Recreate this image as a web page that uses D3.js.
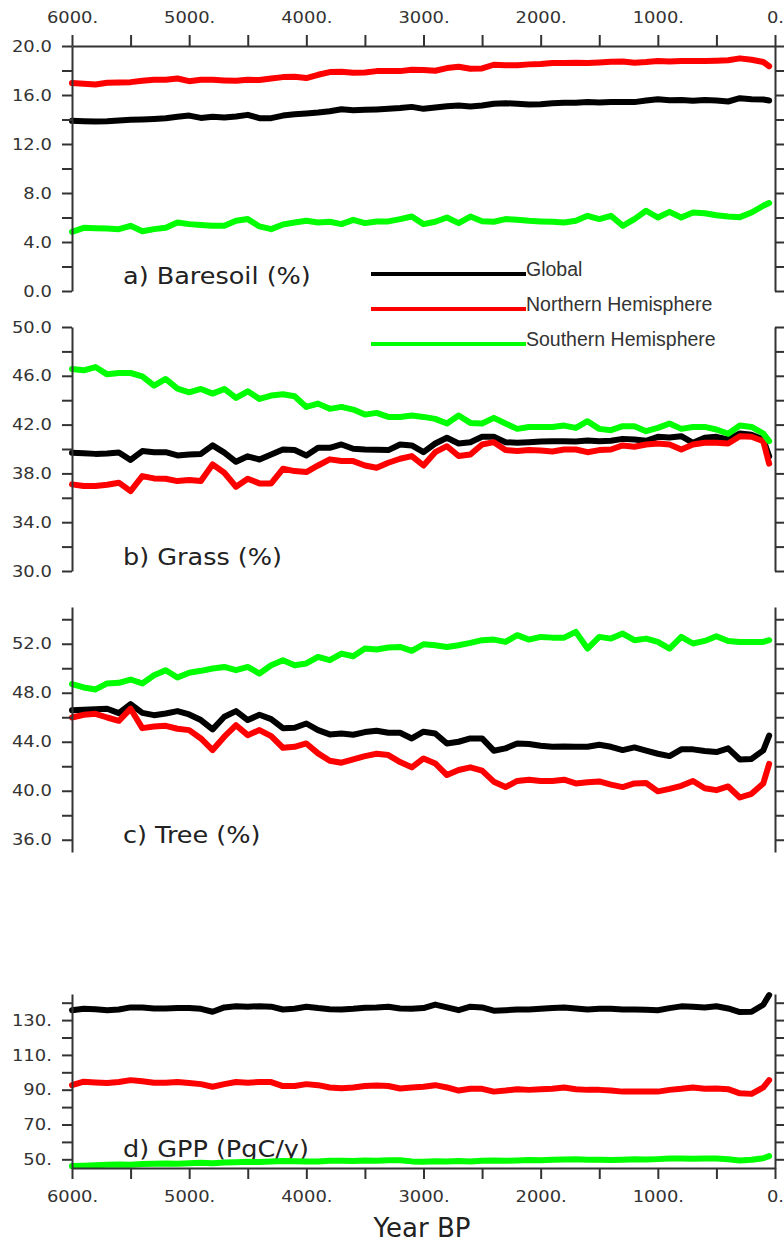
<!DOCTYPE html>
<html>
<head>
<meta charset="utf-8">
<script src="https://cdn.jsdelivr.net/npm/d3@7"></script>
<style>
  html, body { margin: 0; padding: 0; background: #fff; }
</style>
</head>
<body>
<svg id="chart" width="784" height="1242"></svg>
<script>
// years before present, one sample every century (last one near the end)
const years = [
  6000, 5900, 5800, 5700, 5600, 5500, 5400, 5300, 5200, 5100,
  5000, 4900, 4800, 4700, 4600, 4500, 4400, 4300, 4200, 4100,
  4000, 3900, 3800, 3700, 3600, 3500, 3400, 3300, 3200, 3100,
  3000, 2900, 2800, 2700, 2600, 2500, 2400, 2300, 2200, 2100,
  2000, 1900, 1800, 1700, 1600, 1500, 1400, 1300, 1200, 1100,
  1000, 900, 800, 700, 600, 500, 400, 300, 200, 100,
  50
];

// a) baresoil (%)
const bareGlobal = [
  13.89, 13.86, 13.83, 13.86, 13.92, 13.97, 14.0, 14.05, 14.11, 14.22,
  14.32, 14.13, 14.22, 14.16, 14.24, 14.38, 14.11, 14.11, 14.32, 14.43,
  14.49, 14.57, 14.68, 14.84, 14.76, 14.79, 14.82, 14.87, 14.93, 15.03,
  14.87, 14.98, 15.09, 15.14, 15.06, 15.14, 15.28, 15.33, 15.28, 15.23,
  15.25, 15.33, 15.36, 15.36, 15.42, 15.39, 15.42, 15.42, 15.42, 15.55,
  15.66, 15.58, 15.6, 15.53, 15.6, 15.55, 15.47, 15.74, 15.66, 15.63,
  15.55
];
const bareNH = [
  16.97, 16.92, 16.86, 17.0, 17.03, 17.05, 17.16, 17.24, 17.24, 17.35,
  17.13, 17.24, 17.24, 17.19, 17.16, 17.24, 17.22, 17.35, 17.46, 17.49,
  17.38, 17.65, 17.87, 17.9, 17.82, 17.84, 17.95, 17.95, 17.95, 18.06,
  18.04, 17.98, 18.2, 18.31, 18.14, 18.17, 18.47, 18.42, 18.42, 18.5,
  18.53, 18.61, 18.61, 18.64, 18.61, 18.66, 18.72, 18.74, 18.64, 18.69,
  18.77, 18.74, 18.77, 18.77, 18.77, 18.8, 18.83, 18.99, 18.88, 18.69,
  18.35
];
const bareSH = [
  4.83, 5.16, 5.13, 5.10, 5.05, 5.32, 4.88, 5.05, 5.16, 5.59,
  5.46, 5.38, 5.32, 5.32, 5.73, 5.87, 5.27, 5.05, 5.43, 5.59,
  5.73, 5.59, 5.65, 5.46, 5.81, 5.54, 5.68, 5.68, 5.87, 6.08,
  5.46, 5.65, 6.0, 5.54, 6.08, 5.70, 5.65, 5.87, 5.81, 5.73,
  5.68, 5.65, 5.59, 5.73, 6.14, 5.87, 6.14, 5.32, 5.87, 6.55,
  6.0, 6.46, 6.0, 6.41, 6.35, 6.19, 6.08, 6.03, 6.41, 6.96,
  7.18
];

// b) grass (%)
const grassGlobal = [
  39.69, 39.66, 39.6, 39.63, 39.71, 39.1, 39.83, 39.74, 39.74, 39.47,
  39.55, 39.6, 40.3, 39.7, 38.95, 39.4, 39.14, 39.55, 39.96, 39.91,
  39.47, 40.1, 40.1, 40.37, 40.02, 39.96, 39.94, 39.91, 40.37, 40.29,
  39.74, 40.45, 40.92, 40.45, 40.56, 41.0, 41.0, 40.56, 40.51, 40.56,
  40.61, 40.64, 40.64, 40.61, 40.7, 40.64, 40.67, 40.83, 40.78, 40.67,
  41.0, 40.94, 41.05, 40.51, 40.92, 41.0, 40.78, 41.27, 41.16, 40.78,
  39.4
];
const grassNH = [
  37.1, 36.96, 36.96, 37.07, 37.24, 36.55, 37.78, 37.59, 37.56, 37.37,
  37.45, 37.37, 38.74, 38.05, 36.91, 37.56, 37.18, 37.18, 38.38, 38.19,
  38.11, 38.65, 39.15, 39.01, 39.01, 38.65, 38.46, 38.87, 39.2, 39.42,
  38.65, 39.74, 40.23, 39.42, 39.55, 40.37, 40.56, 39.91, 39.83, 39.91,
  39.88, 39.8, 39.96, 39.96, 39.74, 39.91, 39.96, 40.29, 40.18, 40.37,
  40.45, 40.37, 39.96, 40.37, 40.51, 40.51, 40.45, 41.05, 41.0, 40.64,
  38.8
];
const grassSH = [
  46.56, 46.45, 46.72, 46.12, 46.23, 46.23, 45.96, 45.2, 45.74, 44.95,
  44.65, 44.92, 44.54, 44.92, 44.19, 44.73, 44.1, 44.38, 44.49, 44.32,
  43.45, 43.72, 43.29, 43.45, 43.23, 42.82, 42.96, 42.63, 42.63, 42.74,
  42.63, 42.47, 42.09, 42.74, 42.14, 42.09, 42.55, 42.09, 41.65, 41.81,
  41.81, 41.81, 41.92, 41.73, 42.28, 41.65, 41.54, 41.87, 41.87, 41.46,
  41.73, 42.09, 41.65, 41.81, 41.81, 41.6, 41.25, 41.92, 41.81, 41.27,
  40.64
];

// c) tree (%)
const treeGlobal = [
  46.58, 46.61, 46.66, 46.69, 46.34, 47.07, 46.36, 46.17, 46.31, 46.5,
  46.23, 45.77, 45.01, 46.04, 46.5, 45.77, 46.2, 45.85, 45.11, 45.14,
  45.49, 44.95, 44.6, 44.68, 44.57, 44.79, 44.9, 44.73, 44.73, 44.27,
  44.82, 44.68, 43.86, 44.0, 44.27, 44.27, 43.27, 43.46, 43.86, 43.81,
  43.67, 43.59, 43.62, 43.59, 43.59, 43.76, 43.59, 43.32, 43.54, 43.27,
  43.02, 42.83, 43.38, 43.38, 43.24, 43.16, 43.46, 42.55, 42.6, 43.3,
  44.5
];
const treeNH = [
  45.98, 46.2, 46.28, 45.98, 45.71, 46.7, 45.11, 45.25, 45.3, 45.06,
  44.95, 44.27, 43.32, 44.41, 45.35, 44.54, 44.95, 44.46, 43.51, 43.59,
  43.86, 43.05, 42.45, 42.29, 42.56, 42.83, 43.02, 42.91, 42.34, 41.91,
  42.64, 42.23, 41.28, 41.69, 41.91, 41.64, 40.74, 40.3, 40.8, 40.9,
  40.8, 40.8, 40.9, 40.6, 40.7, 40.76, 40.5, 40.3, 40.6, 40.63,
  39.95, 40.15, 40.4, 40.8, 40.2, 40.05, 40.35, 39.45, 39.75, 40.6,
  42.2
];
const treeSH = [
  48.7, 48.43, 48.27, 48.76, 48.81, 49.08, 48.76, 49.43, 49.84, 49.24,
  49.63, 49.79, 49.98, 50.11, 49.84, 50.11, 49.57, 50.25, 50.66, 50.25,
  50.39, 50.93, 50.66, 51.2, 50.98, 51.61, 51.53, 51.69, 51.74, 51.42,
  51.96, 51.88, 51.74, 51.88, 52.07, 52.29, 52.34, 52.15, 52.7, 52.34,
  52.56, 52.5, 52.5, 52.97, 51.61, 52.56, 52.42, 52.83, 52.29, 52.42,
  52.15, 51.61, 52.56, 52.02, 52.23, 52.61, 52.23, 52.15, 52.15, 52.15,
  52.29
];

// d) GPP (PgC/y)
const gppGlobal = [
  135.7, 136.5, 136.3, 135.7, 136.1, 137.3, 137.3, 136.7, 136.7, 136.9,
  136.9, 136.5, 134.8, 137.3, 138.0, 137.7, 138.0, 137.7, 136.1, 136.5,
  137.7, 136.9, 136.3, 136.1, 136.5, 137.1, 137.3, 137.7, 136.7, 136.5,
  136.9, 138.9, 137.3, 135.7, 137.7, 137.3, 135.4, 135.7, 136.1, 136.1,
  136.5, 136.9, 137.3, 136.7, 136.1, 136.5, 136.5, 136.1, 136.1, 135.9,
  135.7, 136.9, 137.9, 137.7, 137.3, 138.0, 136.7, 134.6, 134.8, 138.8,
  144.4
];
const gppNH = [
  92.6, 94.6, 94.2, 93.8, 94.4, 95.5, 94.8, 94.0, 94.0, 94.4,
  93.8, 93.2, 91.7, 93.2, 94.4, 94.0, 94.4, 94.4, 92.1, 92.1,
  93.2, 92.6, 91.3, 90.9, 91.3, 92.1, 92.4, 92.1, 90.7, 91.3,
  91.7, 92.6, 91.3, 89.5, 90.5, 90.5, 88.9, 89.5, 90.3, 89.9,
  90.3, 90.5, 91.3, 90.3, 89.9, 89.9, 89.5, 88.9, 88.9, 88.9,
  88.9, 89.9, 90.5, 91.3, 90.5, 90.7, 90.3, 87.9, 87.6, 91.3,
  95.5
];
const gppSH = [
  46.1, 46.3, 46.6, 46.8, 47.0, 46.9, 47.3, 47.5, 47.6, 47.5,
  47.8, 48.0, 47.8, 48.1, 48.3, 48.6, 48.4, 48.8, 49.0, 48.9,
  48.7, 48.8, 49.1, 49.2, 49.0, 49.3, 49.2, 49.4, 49.5, 48.8,
  48.6, 48.9, 48.7, 49.0, 48.8, 49.2, 49.3, 49.1, 49.3, 49.6,
  49.5, 49.8, 49.9, 50.0, 49.8, 49.7, 49.6, 49.8, 50.0, 49.9,
  50.1, 50.4, 50.5, 50.3, 50.5, 50.4, 50.0, 49.3, 49.8, 50.6,
  51.8
];

// axis ticks
const yearTicks = [6000, 5500, 5000, 4500, 4000, 3500, 3000, 2500, 2000, 1500, 1000, 500, 0];
const yearLabels = [6000, 5000, 4000, 3000, 2000, 1000, 0];
const bareTicks = [0, 2, 4, 6, 8, 10, 12, 14, 16, 18, 20];
const bareLabels = [0, 4, 8, 12, 16, 20];
const grassTicks = [30, 32, 34, 36, 38, 40, 42, 44, 46, 48, 50];
const grassLabels = [30, 34, 38, 42, 46, 50];
const treeTicks = [36, 38, 40, 42, 44, 46, 48, 50, 52, 54];
const treeLabels = [36, 40, 44, 48, 52];
const gppTicks = [50, 60, 70, 80, 90, 100, 110, 120, 130, 140];
const gppLabels = [50, 70, 90, 110, 130];

const seriesNames = ['Global', 'Northern Hemisphere', 'Southern Hemisphere'];
const seriesColors = ['#000000', '#ff0000', '#00ff00'];

const svg = d3.select('#chart');
const FONT = 'DejaVu Sans, sans-serif';
const SX = 1.12; // text in the picture is stretched sideways

const x = d3.scaleLinear().domain([6000, 0]).range([72, 775]);

const panels = [
  { title: 'a) Baresoil (%)', domain: [0, 20], range: [291, 46], ticks: bareTicks, labels: bareLabels,
    fmt: (v) => v.toFixed(1), data: [bareGlobal, bareNH, bareSH], titleY: 284 },
  { title: 'b) Grass (%)', domain: [30, 50], range: [571, 327], ticks: grassTicks, labels: grassLabels,
    fmt: (v) => v.toFixed(1), data: [grassGlobal, grassNH, grassSH], titleY: 565 },
  { title: 'c) Tree (%)', domain: [35, 55], range: [852, 607], ticks: treeTicks, labels: treeLabels,
    fmt: (v) => v.toFixed(1), data: [treeGlobal, treeNH, treeSH], titleY: 843 },
  { title: 'd) GPP (PgC/y)', domain: [45, 145], range: [1168, 994], ticks: gppTicks, labels: gppLabels,
    fmt: (v) => v + '.', data: [gppGlobal, gppNH, gppSH], titleY: 1157 }
];

function styleAxis(g) {
  g.attr('font-family', FONT).attr('font-size', 16).attr('color', '#333');
  g.select('.domain').attr('stroke-width', 2);
  g.selectAll('.tick line').attr('stroke-width', 2);
  g.selectAll('.tick text').attr('fill', '#333').attr('transform', `scale(${SX},1)`);
}

panels.forEach((p) => {
  const y = d3.scaleLinear().domain(p.domain).range(p.range);

  // titles sit behind the curves
  svg.append('text')
    .attr('transform', `translate(123,${p.titleY}) scale(1.11,1)`)
    .attr('font-family', FONT)
    .attr('font-size', 23)
    .attr('fill', '#222')
    .text(p.title);

  const line = d3.line()
    .x((d, i) => x(years[i]))
    .y((d) => y(d));

  p.data.forEach((vals, k) => {
    svg.append('path')
      .datum(vals)
      .attr('fill', 'none')
      .attr('stroke', seriesColors[k])
      .attr('stroke-width', 6)
      .attr('stroke-linejoin', 'round')
      .attr('stroke-linecap', 'round')
      .attr('d', line);
  });

  svg.append('g')
    .attr('transform', 'translate(72,0)')
    .call(d3.axisLeft(y)
      .tickValues(p.ticks)
      .tickFormat((v) => (p.labels.includes(v) ? p.fmt(v) : ''))
      .tickSizeInner(10)
      .tickSizeOuter(0)
      .tickPadding(8))
    .call(styleAxis);

  svg.append('g')
    .attr('transform', 'translate(775,0)')
    .call(d3.axisRight(y)
      .tickValues(p.ticks)
      .tickFormat('')
      .tickSizeInner(10)
      .tickSizeOuter(0))
    .call(styleAxis);
});

const yearFmt = (v) => (yearLabels.includes(v) ? v + '.' : '');

svg.append('g')
  .attr('transform', 'translate(0,46)')
  .call(d3.axisTop(x).tickValues(yearTicks).tickFormat(yearFmt)
    .tickSizeInner(11).tickSizeOuter(0).tickPadding(12))
  .call(styleAxis);

svg.append('g')
  .attr('transform', 'translate(0,1168)')
  .call(d3.axisBottom(x).tickValues(yearTicks).tickFormat(yearFmt)
    .tickSizeInner(11).tickSizeOuter(0).tickPadding(12))
  .call(styleAxis);

svg.append('text')
  .attr('x', 422)
  .attr('y', 1237)
  .attr('text-anchor', 'middle')
  .attr('font-family', FONT)
  .attr('font-size', 26)
  .attr('fill', '#222')
  .text('Year BP');

// legend
const legend = svg.append('g');
seriesNames.forEach((name, k) => {
  const ly = 274 + k * 35;
  legend.append('line')
    .attr('x1', 371).attr('x2', 526)
    .attr('y1', ly).attr('y2', ly)
    .attr('stroke', seriesColors[k])
    .attr('stroke-width', 4);
  legend.append('text')
    .attr('x', 526)
    .attr('y', ly + 2)
    .attr('font-family', 'Liberation Sans, Arial, sans-serif')
    .attr('font-size', 19.5)
    .attr('fill', '#333')
    .text(name);
});
</script>
</body>
</html>
